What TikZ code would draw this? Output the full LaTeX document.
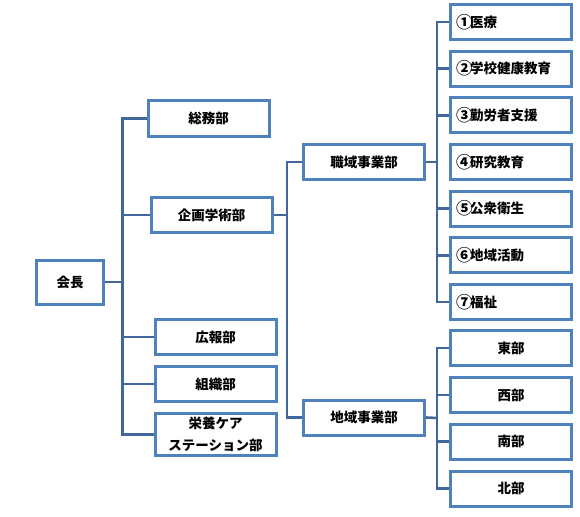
\documentclass[tikz,border=0pt]{standalone}
\usepackage{fontspec}
\setmainfont{Noto Sans CJK JP}
\definecolor{BoxBlue}{HTML}{4F81BD}
\definecolor{LineBlue}{HTML}{41679B}
\newcommand{\jpbox}{\bfseries\fontsize{13.5}{22}\selectfont}
\newcommand{\circnum}[1]{\makebox[14pt][l]{\raisebox{-1.2pt}{\fontsize{16.5}{22}\selectfont #1}}}

\begin{document}
\begin{tikzpicture}[x=1pt, y=-1pt,
    box/.style={draw=BoxBlue, line width=3pt, fill=white, inner sep=0pt,
                minimum width=121pt, minimum height=35pt, font=\jpbox, align=center},
    item/.style={box, text width=110pt, align=left},
    conn/.style={draw=LineBlue, line width=2.6pt}]
    \useasboundingbox (0,0) rectangle (580,516);

    % Define trunk positions
    \coordinate (tA) at (122.5, 282);
    \coordinate (tB) at (287, 215);
    \coordinate (tC) at (437, 162);
    \coordinate (tD) at (437, 418);

    % Head
    \node[box, minimum width=67pt, minimum height=44pt] (kaicho) at (70, 282) {会長};

    % Departments under the head
    \node[box] (somu)    at (208.5, 118.5) {総務部};
    \node[box] (kikaku)  at (211.5, 215)   {企画学術部};
    \node[box] (koho)    at (215.5, 337)   {広報部};
    \node[box] (soshiki) at (215.5, 384)   {組織部};
    \node[box, minimum height=42pt] (eiyo) at (215.5, 434.5) {栄養ケア\\ステーション部};

    % Divisions under planning
    \node[box] (shokuiki) at (364, 162)   {職域事業部};
    \node[box] (chiiki)   at (364, 417.5) {地域事業部};

    % Workplace items
    \node[item] (c1) at (511, 22)    {\circnum{①}医療};
    \node[item] (c2) at (511, 68.7)  {\circnum{②}学校健康教育};
    \node[item] (c3) at (511, 115.3) {\circnum{③}勤労者支援};
    \node[item] (c4) at (511, 162)   {\circnum{④}研究教育};
    \node[item] (c5) at (511, 208.7) {\circnum{⑤}公衆衛生};
    \node[item] (c6) at (511, 255.3) {\circnum{⑥}地域活動};
    \node[item] (c7) at (511, 302)   {\circnum{⑦}福祉};

    % Regional branches
    \node[box] (east)  at (511, 348)   {東部};
    \node[box] (west)  at (511, 395)   {西部};
    \node[box] (south) at (511, 441.5) {南部};
    \node[box] (north) at (511, 488.5) {北部};

    % Connectors from the head
    \draw[conn] (kaicho.east) -- (kaicho.east -| tA);
    \draw[conn] (somu.west) -| (tA) |- (eiyo.west);
    \draw[conn] (kikaku.west -| tA) -- (kikaku.west);
    \draw[conn] (koho.west -| tA) -- (koho.west);
    \draw[conn] (soshiki.west -| tA) -- (soshiki.west);

    % Connectors from planning
    \draw[conn] (kikaku.east) -- (tB);
    \draw[conn] (shokuiki.west) -| (tB) |- (chiiki.west);

    % Connectors from workplace division
    \draw[conn] (shokuiki.east) -- (tC);
    \draw[conn] (c1.west) -| (tC) |- (c7.west);
    \draw[conn] (c2.west -| tC) -- (c2.west);
    \draw[conn] (c3.west -| tC) -- (c3.west);
    \draw[conn] (c5.west -| tC) -- (c5.west);
    \draw[conn] (c6.west -| tC) -- (c6.west);

    % Connectors from regional division
    \draw[conn] (chiiki.east) -- (tD);
    \draw[conn] (east.west) -| (tD) |- (north.west);
    \draw[conn] (west.west -| tD) -- (west.west);
    \draw[conn] (south.west -| tD) -- (south.west);
\end{tikzpicture}
\end{document}
